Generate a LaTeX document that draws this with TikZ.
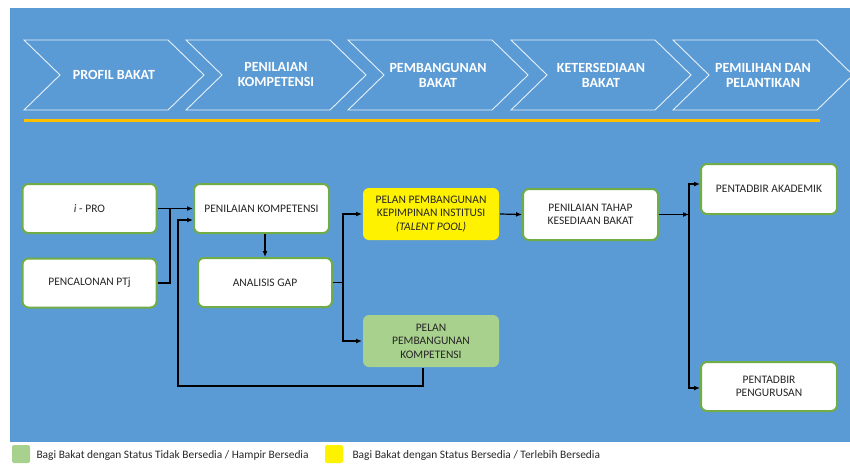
\documentclass[tikz,border=0pt]{standalone}
\usepackage{fontspec}
\setmainfont{Carlito}
\usetikzlibrary{arrows.meta,positioning,calc}
\definecolor{bgblue}{HTML}{5B9BD5}
\definecolor{bgshade}{HTML}{4F8BC3}
\definecolor{boxgreen}{HTML}{70AD47}
\definecolor{softgreen}{HTML}{A9D18E}
\definecolor{goldline}{HTML}{FFC000}
\definecolor{inktext}{HTML}{262626}

\begin{document}
\begin{tikzpicture}[x=1pt, y=-1pt,
    stage/.style={draw=white!85!bgblue, line width=0.9pt},
    stagetxt/.style={text=white, font=\fontsize{14}{15}\selectfont\bfseries, align=center},
    box/.style={draw=boxgreen, line width=2pt, fill=white, rounded corners=6pt, align=center, text=inktext, font=\fontsize{11.5}{13.5}\selectfont, minimum width=134pt, minimum height=49pt, inner sep=2pt},
    plan/.style={box, draw=none, minimum width=136pt, minimum height=52pt},
    conn/.style={line width=1.2pt, black},
    arr/.style={conn, -{Latex[length=6pt,width=5pt]}},
    key/.style={minimum size=18pt, inner sep=0pt, rounded corners=2pt},
    keytxt/.style={anchor=base west, text=inktext, font=\fontsize{11.4}{13}\selectfont}
]
\useasboundingbox (0,0) rectangle (850,463);
\fill[bgblue] (10,8) rectangle (850,442);
\shade[top color=bgblue, middle color=bgshade, bottom color=bgblue] (22,124) rectangle (850,164);

\foreach \l/\txt [count=\i] in {24/{PROFIL BAKAT}, 186/{PENILAIAN\\KOMPETENSI}, 348/{PEMBANGUNAN\\BAKAT}, 511/{KETERSEDIAAN\\BAKAT}, 673/{PEMILIHAN DAN\\PELANTIKAN}} {
  \draw[stage] (\l,40) -- ++(144,0) -- ++(36,35) -- ++(-36,35) -- ++(-144,0) -- ++(36,-35) -- cycle;
  \node[stagetxt] (s\i) at (\l+90,75) {\txt};
}
\draw[goldline, line width=3pt] (24,120) -- (820,120);

\node[box] (ipro) at (89.5,208.5) {\textit{i} - PRO};
\node[box] (ptj) at (89.5,283) {PENCALONAN PTj};
\node[box, minimum width=135pt] (nilai) at (261.5,208.5) {PENILAIAN KOMPETENSI};
\node[box] (gap) at (265,282.5) {ANALISIS GAP};
\node[plan, fill=yellow] (pool) at (431,214) {PELAN PEMBANGUNAN\\KEPIMPINAN INSTITUSI\\\textit{(TALENT POOL)}};
\node[box, minimum width=135pt, minimum height=51pt] (tahap) at (590.5,214.5) {PENILAIAN TAHAP\\KESEDIAAN BAKAT};
\node[plan, fill=softgreen] (pelan) at (431,341) {PELAN\\PEMBANGUNAN\\KOMPETENSI};
\node[box, minimum width=136pt, minimum height=50pt] (akad) at (769,189) {PENTADBIR AKADEMIK};
\node[box, minimum width=136pt] (urus) at (769,386.5) {PENTADBIR\\PENGURUSAN};

\coordinate (j1) at (170,208.5);
\coordinate (j2) at (343,282.5);
\coordinate (j3) at (689,214.5);
\coordinate (lp) at (178,386);

\draw[arr] (ipro.east) -- (nilai.west);
\draw[conn] (ptj.east) -| (j1);
\draw[arr] (nilai.south -| gap.north) -- (gap.north);
\draw[conn] (gap.east) -- (j2);
\draw[arr] (j2) |- (pool.west);
\draw[arr] (j2) |- (pelan.west);
\draw[arr] (pool.east) -- (tahap.west);
\draw[arr] (tahap.east) -- (j3);
\draw[arr] (j3) |- ([yshift=5pt]akad.west);
\draw[arr] (j3) |- ([yshift=-1.5pt]urus.west);
\draw[arr] ([xshift=-8pt]pelan.south) |- (lp) |- ([yshift=-11.5pt]nilai.west);

\node[key, fill=softgreen] (kg) at (21,454) {};
\node[keytxt] (kgtxt) at (33,458) {Bagi Bakat dengan Status Tidak Bersedia / Hampir Bersedia};
\node[key, fill=yellow] (ky) at (334,454) {};
\node[keytxt] (kytxt) at (349,458) {Bagi Bakat dengan Status Bersedia / Terlebih Bersedia};
\end{tikzpicture}
\end{document}
